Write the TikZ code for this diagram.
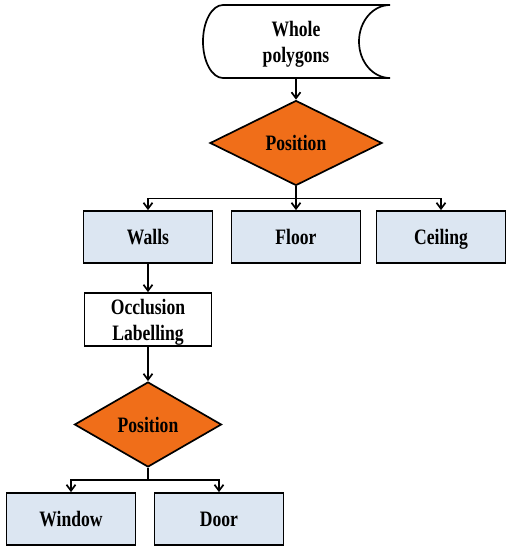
\documentclass[tikz,border=0pt]{standalone}
\usepackage{fontspec}
\setmainfont{Liberation Serif}[FakeStretch=0.8]
\usetikzlibrary{shapes.geometric,arrows.meta}
\definecolor{boxblue}{RGB}{220,230,242}
\definecolor{dorange}{RGB}{240,110,25}
\newcommand{\tallstrut}{\rule{0pt}{21pt}}
\tikzset{
  lbl/.style={font=\fontsize{22}{26}\selectfont\bfseries, align=center},
  oneline/.style={text height=15pt, text depth=0pt},
  bluebox/.style={lbl, oneline, draw, line width=1.7pt, fill=boxblue, minimum width=129pt, minimum height=52pt, inner sep=0pt},
  whitebox/.style={lbl, draw, line width=1.7pt, fill=white, minimum width=127pt, minimum height=53pt, inner sep=0pt},
  decide/.style={lbl, oneline, diamond, draw, line width=1.7pt, fill=dorange, inner sep=0pt, aspect=2},
  link/.style={line width=1.7pt},
  arr/.style={line width=1.7pt, -{Straight Barb[length=6pt,width=9pt]}}
}
\begin{document}
\begin{tikzpicture}[x=1pt,y=-1pt]
\useasboundingbox (0,0) rectangle (511,550);
% stored data shape
\draw[line width=1.7pt, fill=white] (223,5) -- (390,5)
  arc[start angle=90, end angle=270, x radius=31pt, y radius=36.5pt]
  -- (223,78)
  arc[start angle=270, end angle=90, x radius=20pt, y radius=36.5pt] -- cycle;
\node[lbl, minimum width=187pt, minimum height=73pt, inner sep=0pt] (whole) at (296,41.5) {\tallstrut Whole\\polygons};
\node[decide, minimum width=172pt, minimum height=85pt] (d1) at (296,143) {Position};
\node[bluebox] (walls) at (148,237) {Walls};
\node[bluebox] (floor) at (296,237) {Floor};
\node[bluebox] (ceiling) at (441,237) {Ceiling};
\node[whitebox] (occl) at (148,319.5) {\tallstrut Occlusion\\Labelling};
\node[decide, minimum width=147pt, minimum height=85pt] (d2) at (148,424.5) {Position};
\node[bluebox] (window) at (71,519) {Window};
\node[bluebox] (door) at (219,519) {Door};
% connectors
\draw[arr] (whole.south) -- (d1.north);
\draw[link] (d1.south) -- ++(0,12) coordinate (j1);
\draw[arr] (j1) -| (walls.north);
\draw[arr] (j1) -| (ceiling.north);
\draw[arr] (j1) -- (floor.north);
\draw[arr] (walls.south) -- (occl.north);
\draw[arr] (occl.south) -- (d2.north);
\draw[link] (d2.south) -- ++(0,12) coordinate (j2);
\draw[arr] (j2) -| (window.north);
\draw[arr] (j2) -| (door.north);
\end{tikzpicture}
\end{document}
